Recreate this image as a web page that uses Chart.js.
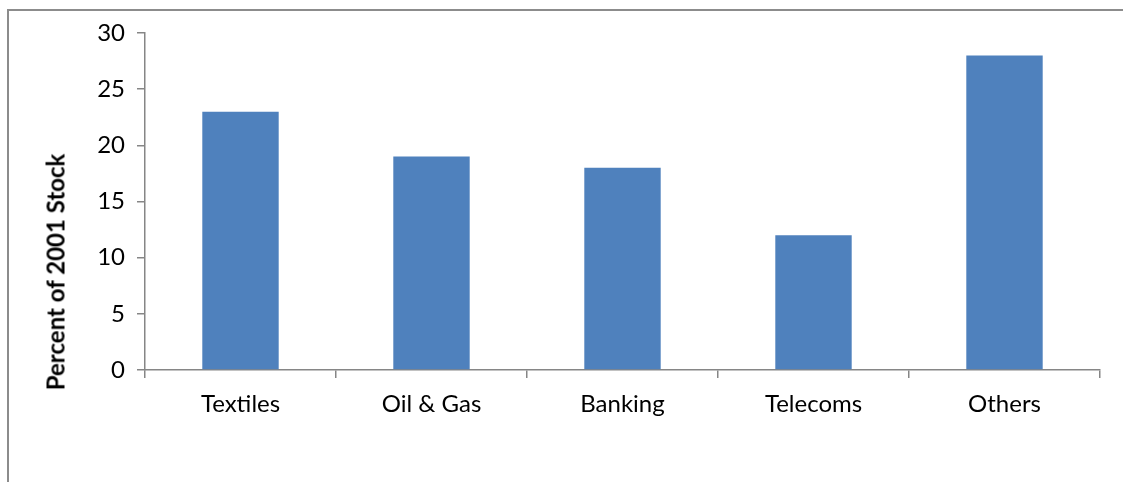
<!DOCTYPE html>
<html>
<head>
<meta charset="utf-8">
<script src="https://cdn.jsdelivr.net/npm/chart.js@4"></script>
<style>
  html, body { margin: 0; padding: 0; background: #fff; }
  #wrap { position: relative; width: 1123px; height: 482px; overflow: hidden; }
  #frame { position: absolute; left: 7px; top: 9px; width: 1200px; height: 600px;
           border-left: 2px solid #8c8c8c; border-top: 2px solid #8c8c8c; }
  canvas { position: absolute; left: 0; top: 0; }
  #ytitle { position: absolute; left: 55px; top: 272px; transform: translate(-50%, -50%) rotate(-90deg);
            white-space: nowrap; font: bold 24px Lato, 'Open Sans', sans-serif; color: #000; }
</style>
</head>
<body>
<div id="wrap">
  <div id="frame"></div>
  <canvas id="myChart" width="1123" height="482"></canvas>
  <div id="ytitle">Percent of 2001 Stock</div>
</div>
<script>
const categories = ["Textiles", "Oil & Gas", "Banking", "Telecoms", "Others"]
const shareValues = [23, 19, 18, 12, 28]
const yTicks = [0, 5, 10, 15, 20, 25, 30]

const ctx = document.querySelector("#myChart").getContext("2d")
const axisGray = "#868686"
const font = { family: "Lato, 'Open Sans', sans-serif", size: 24 }

const chart = new Chart(ctx, {
    type: "bar",
    data: {
        labels: categories,
        datasets: [{
            data: shareValues,
            backgroundColor: "#4F81BD",
            borderWidth: 0,
            categoryPercentage: 1,
            barPercentage: 0.4
        }]
    },
    options: {
        responsive: false,
        animation: false,
        layout: { padding: { top: 33, right: 23, left: 0, bottom: 0 } },
        plugins: {
            legend: { display: false },
            tooltip: { enabled: false }
        },
        scales: {
            x: {
                grid: { drawOnChartArea: false, offset: true, color: axisGray, tickLength: 8, lineWidth: 1.5 },
                border: { color: axisGray, width: 1.5 },
                ticks: { color: "#000", font: font, padding: 12, maxRotation: 0 },
                afterFit: s => { s.height = 112 }
            },
            y: {
                min: 0,
                max: 30,
                afterBuildTicks: s => { s.ticks = yTicks.map(v => ({ value: v })) },
                grid: { drawOnChartArea: false, color: axisGray, tickLength: 8, lineWidth: 1.5 },
                border: { color: axisGray, width: 1.5 },
                ticks: { color: "#000", font: font, padding: 12 },
                afterFit: s => { s.width = 145 }
            }
        }
    }
})
</script>
</body>
</html>
